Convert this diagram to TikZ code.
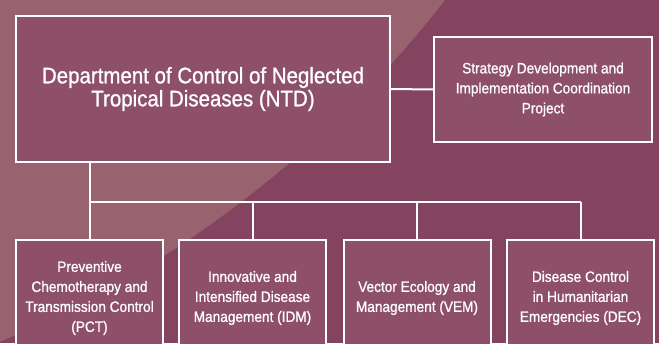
\documentclass[tikz,border=0pt]{standalone}
\usepackage{fontspec}
\setmainfont{Liberation Sans}[FakeStretch=0.91, FakeBold=1]
\definecolor{bgdark}{HTML}{844460}
\definecolor{bglight}{HTML}{98636E}
\definecolor{boxfill}{HTML}{8E5068}
\tikzset{
  unit/.style={draw=white, line width=2pt, fill=boxfill, text=white,
    align=center, inner sep=0pt},
  headbox/.style={unit, minimum width=374pt, minimum height=146pt,
    font=\fontsize{22.5}{23}\selectfont},
  sidebox/.style={unit, minimum width=218pt, minimum height=105pt,
    font=\fontsize{15}{20}\selectfont},
  teambox/.style={unit, minimum width=147pt, minimum height=116pt,
    font=\fontsize{15}{20}\selectfont},
  link/.style={draw=white, line width=2pt}
}
\begin{document}
\begin{tikzpicture}[x=1pt, y=-1pt]
\useasboundingbox (0,0) rectangle (659,343);
\clip (0,0) rectangle (659,343);
% background with the large light arc
\fill[bgdark] (0,0) rectangle (659,343);
\fill[bglight] (-429,-678) circle (1106pt);

% department and project
\node[headbox] (ntd) at (203,89) {Department of Control of Neglected\\Tropical Diseases (NTD)};
\node[sidebox] (sdic) at (543,89.5) {Strategy Development and\\Implementation Coordination\\Project};

% units
\node[teambox] (pct) at (89.5,298) {Preventive\\Chemotherapy and\\Transmission Control\\(PCT)};
\node[teambox] (idm) at (252.5,298) {Innovative and\\Intensified Disease\\Management (IDM)};
\node[teambox] (vem) at (417,298) {Vector Ecology and\\Management (VEM)};
\node[teambox] (dec) at (580.5,298) {Disease Control\\in Humanitarian\\Emergencies (DEC)};

\coordinate (bus) at (0,202);

% connectors
\draw[link] (ntd.east) -- (sdic.west);
\draw[link] (ntd.south -| pct.north) -- (pct.north);
\draw[link] (pct.north |- bus) -- (dec.north |- bus);
\draw[link] (idm.north |- bus) -- (idm.north);
\draw[link] (vem.north |- bus) -- (vem.north);
\draw[link] (dec.north |- bus) -- (dec.north);
\end{tikzpicture}
\end{document}
